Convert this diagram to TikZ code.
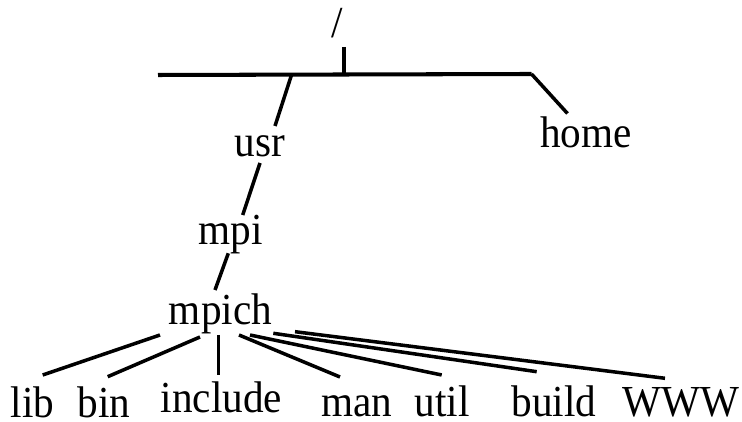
\documentclass[tikz,border=0pt]{standalone}
\usepackage{fontspec}
\setmainfont{Liberation Serif}[FakeStretch=0.93]
\newcommand{\dirfont}{\fontsize{12.6pt}{15pt}\selectfont}

\begin{document}
\begin{tikzpicture}[x=0.01cm,y=-0.01cm,
  every node/.style={font=\dirfont,anchor=base,inner sep=0pt},
  link/.style={line width=1pt},
  bar/.style={line width=1.15pt}]
\useasboundingbox (0,0) rectangle (742,422);

\node[] (root) at (337,38) {/};
\node[] (usr) at (260,157) {usr};
\node[] (home) at (586,148) {home};
\node[] (mpi) at (230.5,245) {mpi};
\node[] (mpich) at (220.5,325) {mpich};

\node[] (lib) at (32.5,418) {lib};
\node[] (bin) at (104,418) {bin};
\node[] (include) at (221.5,413) {include};
\node[] (man) at (357,417) {man};
\node[] (util) at (442,417) {util};
\node[] (build) at (554,417) {build};
\node[] (www) at (681,417) {WWW};

% top level bar
\coordinate (barL) at (158,75);
\coordinate (barR) at (531.5,74);
\coordinate (hub) at (344,74.5);
\coordinate (usrjoin) at (291.5,75);

\draw[bar] (barL) -- (barR);
\draw[bar] ([shift={(7,9)}]root.base) -- (hub);

\path[link] (usrjoin) edge ([shift={(15,-31)}]usr.base);
\path[link] (barR) edge ([shift={(-18.5,-34.5)}]home.base);
\path[link] ([shift={(0,6)}]usr.base) edge ([shift={(12.2,-30)}]mpi.base);
\path[link] ([shift={(-2.2,8.3)}]mpi.base) edge ([shift={(-5.5,-35)}]mpich.base);

\path[link] ([shift={(-60.5,10)}]mpich.base) edge ([shift={(10.2,-43)}]lib.base);
\path[link] ([shift={(-20.5,12)}]mpich.base) edge ([shift={(3.7,-41.3)}]bin.base);
\path[link] ([shift={(-2.2,10)}]mpich.base) edge ([shift={(-3.2,-38)}]include.base);
\path[link] ([shift={(18.5,10)}]mpich.base) edge ([shift={(-17,-40)}]man.base);
\path[link] ([shift={(29.5,10)}]mpich.base) edge ([shift={(-0.3,-42)}]util.base);
\path[link] ([shift={(52.8,8.3)}]mpich.base) edge ([shift={(-17.3,-45.3)}]build.base);
\path[link] ([shift={(74.5,6.7)}]mpich.base) edge ([shift={(-16,-38.7)}]www.base);
\end{tikzpicture}
\end{document}
